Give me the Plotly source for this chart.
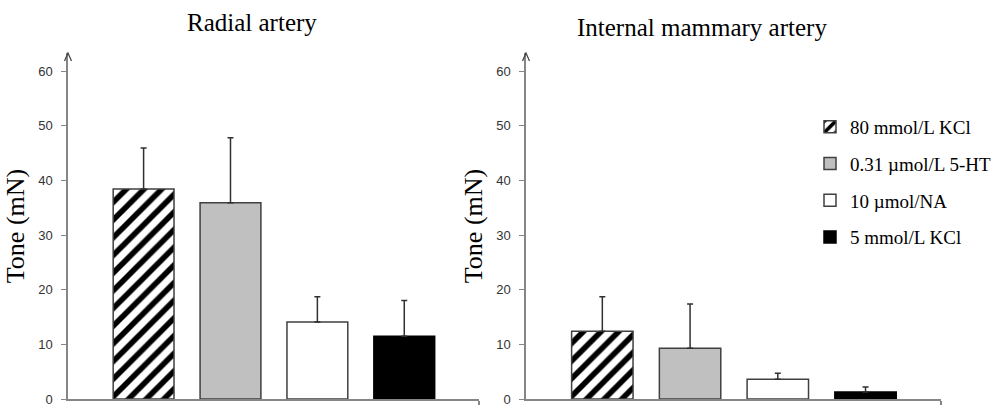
import plotly.graph_objects as go
from plotly.subplots import make_subplots

# Treatments (shared by both panels)
treatments = ["80 mmol/L KCl", "0.31 µmol/L 5-HT", "10 µmol/NA", "5 mmol/L KCl"]

# Mean tone (mN) and upper SD for each vessel
radial_mean = [38.4, 35.9, 14.1, 11.5]
radial_sd = [7.5, 11.9, 4.6, 6.5]
ima_mean = [12.4, 9.3, 3.6, 1.3]
ima_sd = [6.3, 8.1, 1.1, 0.9]

panel_titles = ["Radial artery", "Internal mammary artery"]
y_ticks = [0, 10, 20, 30, 40, 50, 60]

# Bar styling per treatment
fills = ["white", "#c0c0c0", "white", "black"]
patterns = ["/", "", "", ""]
outlines = ["#404040", "#404040", "#404040", "black"]

SERIF = "Liberation Serif, Times New Roman, serif"
SANS = "Liberation Sans, Arial, sans-serif"
AXIS_GREY = "#868686"

Y_MAX = 63.3
X_RANGE = [-0.87, 3.86]

fig = make_subplots(rows=1, cols=2)

for col, (means, sds) in enumerate([(radial_mean, radial_sd), (ima_mean, ima_sd)], start=1):
    for i, name in enumerate(treatments):
        fig.add_trace(
            go.Bar(
                x=[name],
                y=[means[i]],
                name=name,
                legendgroup=name,
                showlegend=(col == 1),
                marker=dict(
                    color=fills[i],
                    line=dict(color=outlines[i], width=1.5),
                    pattern=dict(
                        shape=patterns[i],
                        fgcolor="black",
                        bgcolor="white",
                        fgopacity=1,
                        fillmode="replace",
                        size=12.5,
                        solidity=0.45,
                    ),
                ),
                error_y=dict(
                    type="data",
                    symmetric=False,
                    array=[sds[i]],
                    arrayminus=[0],
                    color="#303030",
                    thickness=1.5,
                    width=3,
                ),
            ),
            row=1,
            col=col,
        )

y_dom = [(408 - 399) / 408, (408 - 53) / 408]
x_doms = [[68 / 1000, 479 / 1000], [526 / 1000, 941 / 1000]]

for col in (1, 2):
    xa = "xaxis" if col == 1 else "xaxis2"
    ya = "yaxis" if col == 1 else "yaxis2"
    fig.layout[xa].update(
        domain=x_doms[col - 1],
        automargin=False,
        type="category",
        categoryorder="array",
        categoryarray=treatments,
        range=X_RANGE,
        showline=True,
        linecolor=AXIS_GREY,
        linewidth=1.5,
        showgrid=False,
        zeroline=False,
        tickmode="array",
        tickvals=[X_RANGE[1]],
        ticktext=[""],
        ticks="outside",
        ticklen=4,
        tickwidth=1.5,
        tickcolor=AXIS_GREY,
        showticklabels=False,
    )
    fig.layout[ya].update(
        domain=y_dom,
        automargin=False,
        range=[0, Y_MAX],
        showline=True,
        linecolor=AXIS_GREY,
        linewidth=1.5,
        showgrid=False,
        zeroline=False,
        tickmode="array",
        tickvals=y_ticks,
        ticks="outside",
        ticklen=5,
        tickwidth=1,
        tickcolor=AXIS_GREY,
        ticklabelstandoff=6,
        tickfont=dict(family=SANS, size=13, color="#333333"),
        title=dict(text="Tone (mN)", font=dict(family=SERIF, size=26, color="black"), standoff=6),
    )
    # open arrowhead on top of the value axis (paper-referenced so it is not clipped)
    fig.add_shape(
        type="path",
        xref="paper",
        yref="paper",
        xsizemode="pixel",
        ysizemode="pixel",
        xanchor=x_doms[col - 1][0],
        yanchor=y_dom[1],
        path="M-3.5,-8 L0,0 L3.5,-8",
        line=dict(color="#404040", width=1.2),
    )

fig.add_annotation(
    text=panel_titles[0], x=252 / 1000, y=1 - 22 / 408, xref="paper", yref="paper",
    showarrow=False, font=dict(family=SERIF, size=25, color="black"),
    xanchor="center", yanchor="middle",
)
fig.add_annotation(
    text=panel_titles[1], x=702 / 1000, y=1 - 28 / 408, xref="paper", yref="paper",
    showarrow=False, font=dict(family=SERIF, size=25, color="black"),
    xanchor="center", yanchor="middle",
)

fig.update_layout(
    width=1000,
    height=408,
    margin=dict(l=0, r=0, t=0, b=0),
    paper_bgcolor="white",
    plot_bgcolor="white",
    barmode="overlay",
    bargap=0.3,
    showlegend=True,
    legend=dict(
        x=0.81,
        y=1 - 108 / 408,
        xanchor="left",
        yanchor="top",
        font=dict(family=SERIF, size=19, color="black"),
        tracegroupgap=9,
        bgcolor="rgba(0,0,0,0)",
    ),
)

fig.write_html("out.html")
